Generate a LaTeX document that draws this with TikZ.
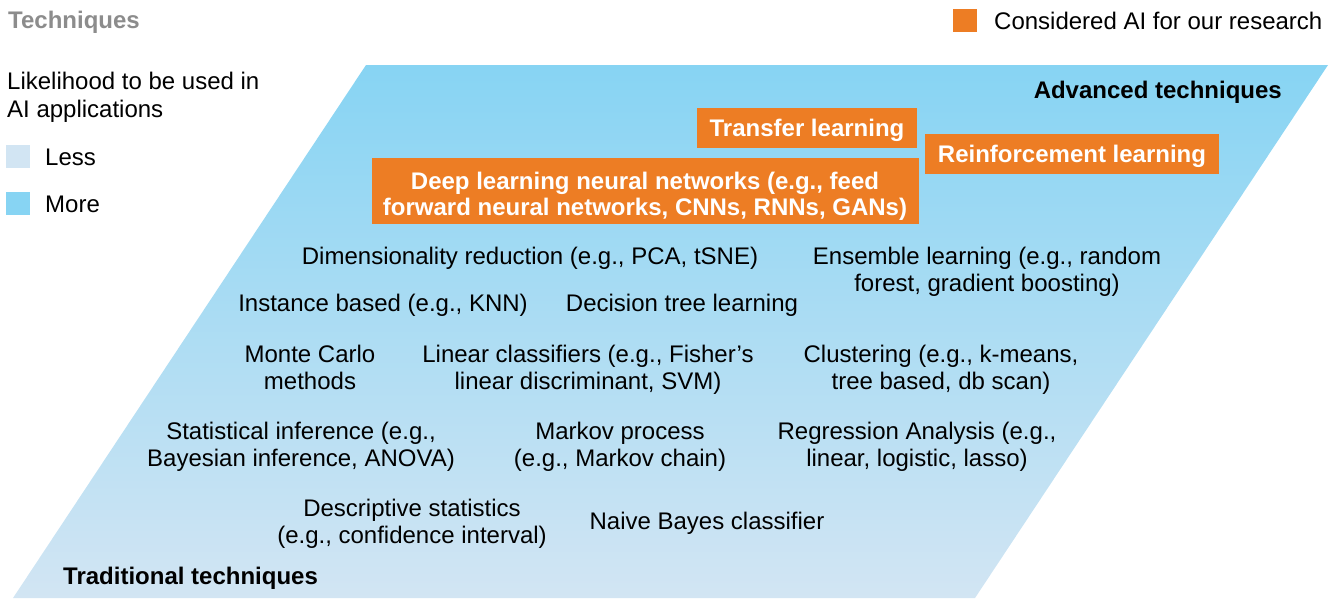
\documentclass[tikz,border=0pt]{standalone}
\usepackage{fontspec}
\setmainfont{Liberation Sans}
\definecolor{skyblue}{RGB}{135,212,243}
\definecolor{paleblue}{RGB}{210,229,243}
\definecolor{aiorange}{RGB}{237,125,36}
\definecolor{headgray}{RGB}{140,140,140}
\begin{document}
\begin{tikzpicture}[x=1pt,y=-1pt,
  txt/.style={font=\fontsize{24}{27}\selectfont, align=center, inner sep=0pt, text=black, yshift=-2.5pt},
  bold/.style={font=\fontsize{24}{27}\selectfont\bfseries, inner sep=0pt, text=black, yshift=-2.5pt},
  aibox/.style={fill=aiorange, text=white, font=\fontsize{24}{26.5}\selectfont\bfseries, align=center, inner sep=0pt, text depth=0pt},
  legbox/.style={minimum width=24pt, minimum height=23pt, inner sep=0pt}]
\useasboundingbox (0,0) rectangle (1333,598);
% parallelogram
\shade[top color=skyblue, bottom color=paleblue] (366,65) -- (1328,65) -- (975,598) -- (13,598) -- cycle;
% header
\node[font=\fontsize{24}{27}\selectfont\bfseries, text=headgray, anchor=west, inner sep=0pt, yshift=-2.5pt] (title) at (8,20) {Techniques};
\node[legbox, fill=aiorange] (lego) at (965,20) {};
\node[txt, anchor=west] (legotxt) at (994,18) {Considered AI for our research};
\node[txt, anchor=west, align=left, font=\fontsize{24}{28}\selectfont] (likely) at (7,95) {Likelihood to be used in\\AI applications};
\node[legbox, fill=paleblue] (less) at (18,156) {};
\node[txt, anchor=west] (lesstxt) at (45,155) {Less};
\node[legbox, fill=skyblue] (more) at (18,203) {};
\node[txt, anchor=west] (moretxt) at (45,202) {More};
% labels
\node[bold, anchor=east] (adv) at (1282,90) {Advanced techniques};
\node[bold, anchor=west] (trad) at (63,576) {Traditional techniques};
% orange boxes
\node[aibox, minimum width=220pt, minimum height=40pt] (transfer) at (807,128) {Transfer learning};
\node[aibox, minimum width=294pt, minimum height=40pt] (reinf) at (1072,154) {Reinforcement learning};
\node[aibox, minimum width=547pt, minimum height=66pt, text height=49pt] (deep) at (645,191) {Deep learning neural networks (e.g., feed\\forward neural networks, CNNs, RNNs, GANs)};
% techniques
\node[txt] (dim) at (530,256) {Dimensionality reduction (e.g., PCA, tSNE)};
\node[txt] (ens) at (987,269) {Ensemble learning (e.g., random\\forest, gradient boosting)};
\node[txt] (inst) at (383,303) {Instance based (e.g., KNN)};
\node[txt] (dtree) at (682,303) {Decision tree learning};
\node[txt] (monte) at (310,365) {Monte Carlo\\methods};
\node[txt] (lin) at (588,367) {Linear classifiers (e.g., Fisher’s\\linear discriminant, SVM)};
\node[txt] (clus) at (941,367) {Clustering (e.g., k-means,\\tree based, db scan)};
\node[txt] (stat) at (301,444) {Statistical inference (e.g.,\\Bayesian inference, ANOVA)};
\node[txt] (markov) at (620,444) {Markov process\\(e.g., Markov chain)};
\node[txt] (regr) at (917,444) {Regression Analysis (e.g.,\\linear, logistic, lasso)};
\node[txt] (desc) at (412,521) {Descriptive statistics\\(e.g., confidence interval)};
\node[txt] (naive) at (707,521) {Naive Bayes classifier};
\end{tikzpicture}
\end{document}
